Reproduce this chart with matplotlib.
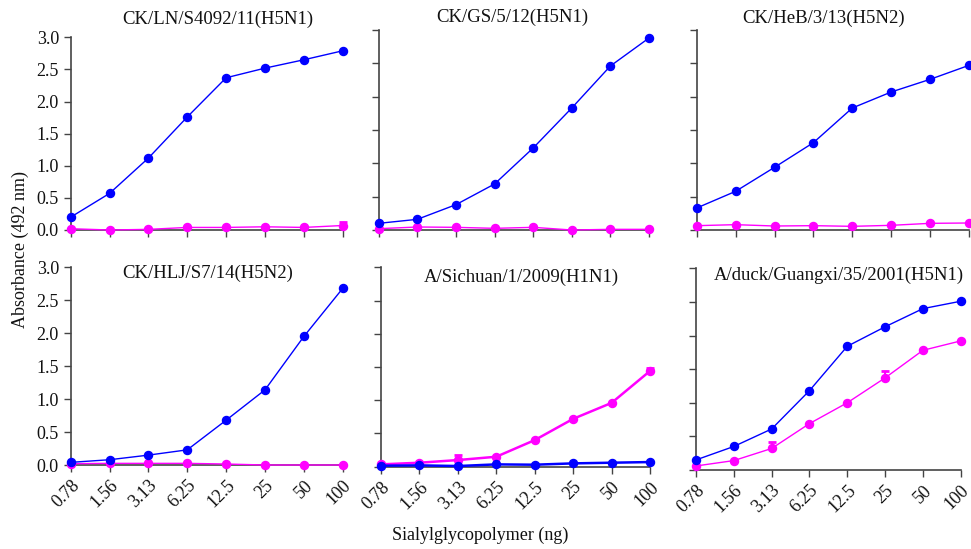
import matplotlib
matplotlib.use("Agg")
import matplotlib.pyplot as plt
import numpy as np

plt.rcParams['font.family'] = ['Liberation Serif', 'DejaVu Serif']

concentrations = ["0.78", "1.56", "3.13", "6.25", "12.5", "25", "50", "100"]

titles = ["CK/LN/S4092/11(H5N1)", "CK/GS/5/12(H5N1)", "CK/HeB/3/13(H5N2)",
          "CK/HLJ/S7/14(H5N2)", "A/Sichuan/1/2009(H1N1)", "A/duck/Guangxi/35/2001(H5N1)"]

# blue series (alpha-2,3) and magenta series (alpha-2,6)
blue_ln = [0.20, 0.57, 1.12, 1.76, 2.37, 2.52, 2.65, 2.79]
pink_ln = [0.02, 0.00, 0.01, 0.04, 0.04, 0.05, 0.04, 0.07]
pink_ln_err = [0, 0, 0, 0, 0, 0, 0, 0.05]

blue_gs = [0.10, 0.16, 0.38, 0.69, 1.23, 1.83, 2.46, 2.88]
pink_gs = [0.02, 0.045, 0.04, 0.025, 0.04, 0.00, 0.01, 0.01]
pink_gs_err = [0, 0, 0, 0, 0, 0, 0, 0]

blue_heb = [0.33, 0.58, 0.94, 1.31, 1.83, 2.07, 2.26, 2.47]
pink_heb = [0.065, 0.08, 0.06, 0.065, 0.055, 0.07, 0.10, 0.105]
pink_heb_err = [0, 0, 0, 0, 0, 0, 0, 0]

blue_hlj = [0.04, 0.08, 0.15, 0.23, 0.68, 1.14, 1.95, 2.68]
pink_hlj = [0.02, 0.025, 0.025, 0.025, 0.015, 0.0, 0.0, 0.0]
pink_hlj_err = [0, 0, 0, 0, 0, 0, 0, 0]

blue_sc = [0.015, 0.02, 0.01, 0.035, 0.03, 0.05, 0.06, 0.07]
pink_sc = [0.035, 0.06, 0.10, 0.15, 0.40, 0.72, 0.96, 1.44]
pink_sc_err = [0, 0, 0.08, 0, 0, 0, 0, 0.05]

blue_gx = [0.15, 0.35, 0.61, 1.18, 1.84, 2.13, 2.40, 2.51]
pink_gx = [0.06, 0.14, 0.32, 0.69, 1.00, 1.37, 1.78, 1.92]
pink_gx_err = [0, 0, 0.10, 0, 0, 0.10, 0, 0]

blues = [blue_ln, blue_gs, blue_heb, blue_hlj, blue_sc, blue_gx]
pinks = [pink_ln, pink_gs, pink_heb, pink_hlj, pink_sc, pink_gx]
perrs = [pink_ln_err, pink_gs_err, pink_heb_err, pink_hlj_err, pink_sc_err, pink_gx_err]

W, H = 971, 549
fig = plt.figure(figsize=(W / 100, H / 100), dpi=100)

# axes boxes in pixels: (x_left, x_right, y_top, y_bottom)
boxes = [(70.7, 342.7, 37.3, 230), (378.7, 649, 30, 230), (696.7, 969, 30, 230),
         (70.7, 342.7, 267.3, 465), (381, 650, 267.3, 466.7), (696, 960.7, 268.3, 470)]
# title positions (pixels): x, y, ha
title_pos = [(218, 19, 'center'), (512, 17, 'center'), (824, 18, 'center'),
             (208, 273, 'center'), (521, 277, 'center'), (964, 275, 'right')]

BLUE = '#0000FF'
PINK = '#FF00FF'
SPINE = '#444444'
x = np.arange(len(concentrations))

for i in range(6):
    xl, xr, yt, yb = boxes[i]
    ax = fig.add_axes([xl / W, 1 - yb / H, (xr - xl) / W, (yb - yt) / H])
    lw = 1.8 if i == 4 else 1.0
    ax.errorbar(x, pinks[i], yerr=[np.zeros(8), perrs[i]], color=PINK, lw=lw,
                marker='o', ms=5.8, capsize=3, elinewidth=1.5, capthick=2,
                clip_on=False, zorder=3)
    ax.plot(x, blues[i], color=BLUE, lw=lw, marker='o', ms=5.8, clip_on=False, zorder=4)
    ax.set_xlim(0, 7)
    ax.set_ylim(0, 3.0)
    ax.set_yticks(np.arange(0, 3.01, 0.5))
    ax.set_xticks(x)
    for s in ['top', 'right']:
        ax.spines[s].set_visible(False)
    for s in ['left', 'bottom']:
        ax.spines[s].set_color(SPINE)
        ax.spines[s].set_linewidth(1.2)
    ax.tick_params(direction='out', length=5, width=1.0, color=SPINE,
                   labelsize=13, labelcolor='#111111')
    if i in (0, 3):
        ax.set_yticklabels([f"{v:.1f}" for v in np.arange(0, 3.01, 0.5)])
    else:
        ax.set_yticklabels([])
    if i >= 3:
        ax.set_xticklabels(concentrations, rotation=45, ha='right', va='top',
                           rotation_mode='anchor')
    else:
        ax.set_xticklabels([])
    tx, ty, ha = title_pos[i]
    fig.text(tx / W, 1 - ty / H, titles[i], ha=ha, va='center', fontsize=13.5,
             color='#111111')

fig.text(20 / W, 1 - 250 / H, "Absorbance (492 nm)", rotation=90, ha='center',
         va='center', fontsize=13, color='#111111')
fig.text(480 / W, 1 - 535 / H, "Sialylglycopolymer (ng)", ha='center', va='center',
         fontsize=13, color='#111111')

fig.savefig("out.png", dpi=100)
